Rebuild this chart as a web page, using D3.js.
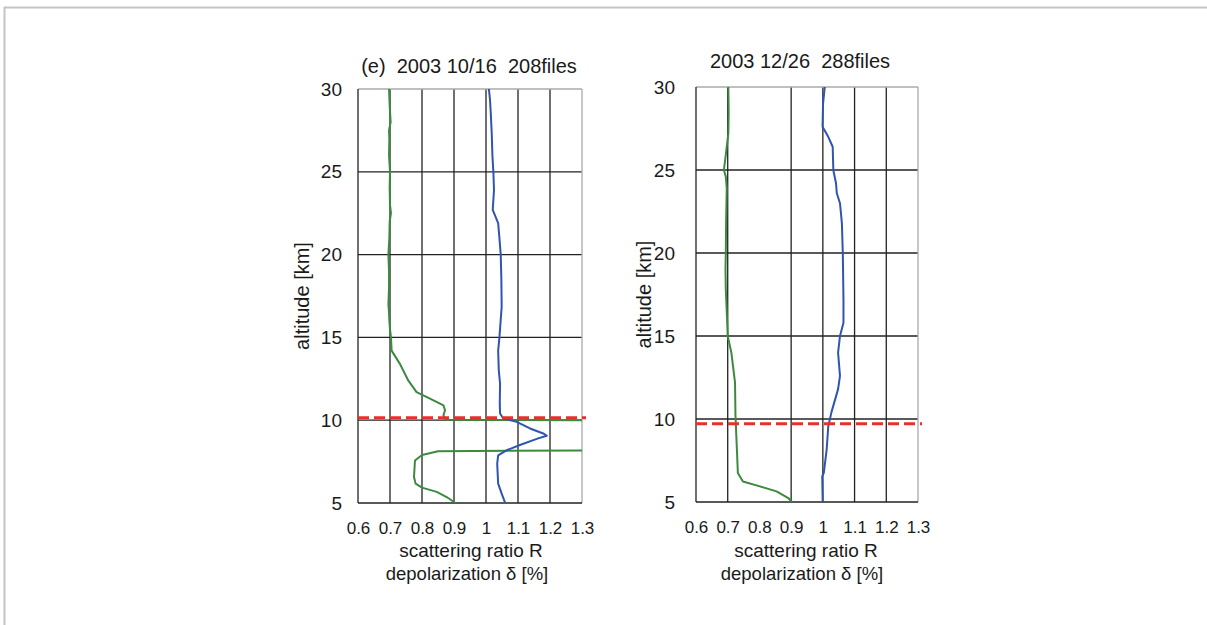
<!DOCTYPE html>
<html>
<head>
<meta charset="utf-8">
<script src="https://cdn.jsdelivr.net/npm/d3@7"></script>
<style>
  body { margin: 0; background: #fff; }
  svg { display: block; font-family: "Liberation Sans", Arial, sans-serif; }
  text { white-space: pre; fill: #1a1a1a; }
</style>
</head>
<body>
<div id="chart"></div>
<script>
// tick values
const xTicks = [0.6, 0.7, 0.8, 0.9, 1.0, 1.1, 1.2, 1.3];
const xTickLabels = ['0.6', '0.7', '0.8', '0.9', '1', '1.1', '1.2', '1.3'];
const yTicks = [5, 10, 15, 20, 25, 30];

// 2003 10/16 profiles: [altitude km, value]
const octGreen = [
  [30, 0.697], [29, 0.699], [28, 0.702], [27.5, 0.697], [27, 0.698], [26, 0.697], [25, 0.700],
  [24, 0.699], [23, 0.700], [22.5, 0.703], [22, 0.699], [21, 0.698], [20, 0.695], [19, 0.697],
  [18, 0.697], [17, 0.695], [16.5, 0.697], [16, 0.698], [15.5, 0.700], [15, 0.703], [14.2, 0.705],
  [13.4, 0.731], [12.4, 0.757], [11.7, 0.783], [11.3, 0.825], [10.9, 0.867], [10.6, 0.872],
  [10.3, 0.867], [10.02, 0.875], [9.97, 1.6], [8.2, 1.6], [8.13, 0.85], [7.9, 0.80], [7.57, 0.778],
  [6.57, 0.775], [6.17, 0.78], [5.93, 0.80], [5.67, 0.846], [5.36, 0.877], [5.06, 0.90], [5.0, 0.903]
];
const octBlue = [
  [30, 1.009], [29.35, 1.0125], [28.5, 1.015], [27.3, 1.018], [26, 1.02], [25, 1.023], [23.9, 1.025],
  [22.7, 1.021], [21.9, 1.038], [21, 1.042], [20, 1.046], [18.5, 1.048], [16.85, 1.049], [15.8, 1.045],
  [15, 1.042], [14.2, 1.038], [13, 1.04], [12.2, 1.044], [11, 1.043], [10.4, 1.044], [10.1, 1.054],
  [9.9, 1.096], [9.5, 1.1375], [9.2, 1.179], [9.06, 1.19], [8.9, 1.163], [8.5, 1.106], [8.19, 1.065],
  [7.88, 1.038], [7.38, 1.035], [6.17, 1.038], [5.57, 1.049], [5.0, 1.06]
];
const octTropopause = 10.15;

// 2003 12/26 profiles
const decGreen = [
  [30, 0.702], [28.5, 0.703], [27.2, 0.702], [26, 0.6945], [25, 0.688], [24.6, 0.694], [23.9, 0.697],
  [22, 0.695], [20, 0.694], [19, 0.693], [17.8, 0.694], [16.5, 0.697], [15, 0.70], [14, 0.7115],
  [12.2, 0.723], [10.2, 0.7245], [8.15, 0.729], [6.75, 0.732], [6.24, 0.748], [5.94, 0.8015],
  [5.64, 0.854], [5.24, 0.891], [5.0, 0.903]
];
const decBlue = [
  [30, 1.006], [29, 1.0006], [27.6, 0.999], [27, 1.017], [26.4, 1.031], [25, 1.033], [24.2, 1.0415],
  [23.6, 1.044], [23, 1.054], [21.8, 1.06], [19.9, 1.063], [17.2, 1.065], [15.8, 1.065], [15, 1.054],
  [14, 1.048], [12.6, 1.054], [11.8, 1.048], [10.4, 1.027], [9.55, 1.017], [8.15, 1.012],
  [6.75, 1.003], [6.54, 0.998], [5, 0.9995]
];
const decTropopause = 9.72;

const W = 1207, H = 625;
const FONT = '"Liberation Sans", Arial, sans-serif';
const svg = d3.select('#chart').append('svg')
  .attr('width', W).attr('height', H);

// page frame (top and left edge only)
svg.append('line').attr('x1', 4).attr('x2', W).attr('y1', 7.5).attr('y2', 7.5)
  .attr('stroke', '#c4c4c4').attr('stroke-width', 2);
svg.append('line').attr('x1', 4.5).attr('x2', 4.5).attr('y1', 7).attr('y2', H)
  .attr('stroke', '#c4c4c4').attr('stroke-width', 2);

const panels = [
  { id: 'oct', title: '(e)  2003 10/16  208files', titleX: 469, titleY: 73, left: 358, right: 582, top: 89, bottom: 503,
    green: octGreen, blue: octBlue, trop: octTropopause, tickPad: 16, yLabelX: 309, grid: [0.7, 0.8, 0.9, 1.0, 1.1, 1.2],
    xTitle: 'scattering ratio R', dTitle: 'depolarization δ [%]', titleCx: 471 },
  { id: 'dec', title: '2003 12/26  288files', titleX: 800, titleY: 68, left: 696, right: 918, top: 87, bottom: 502,
    green: decGreen, blue: decBlue, trop: decTropopause, tickPad: 21, yLabelX: 651, grid: [0.7, 0.9, 1.0, 1.1, 1.2],
    xTitle: 'scattering ratio R', dTitle: 'depolarization δ [%]', titleCx: 806 }
];

panels.forEach(p => {
  const x = d3.scaleLinear().domain([0.6, 1.3]).range([p.left, p.right]);
  const y = d3.scaleLinear().domain([5, 30]).range([p.bottom, p.top]);
  const g = svg.append('g').attr('class', 'panel-' + p.id);

  g.append('clipPath').attr('id', 'clip-' + p.id)
    .append('rect')
    .attr('x', p.left).attr('y', p.top)
    .attr('width', p.right - p.left).attr('height', p.bottom - p.top);

  // grid
  const grid = g.append('g').attr('stroke', '#222').attr('stroke-width', 1.3);
  grid.selectAll('.vg').data(p.grid).join('line')
    .attr('x1', d => x(d)).attr('x2', d => x(d))
    .attr('y1', p.top).attr('y2', p.bottom);
  grid.selectAll('.hg').data(yTicks.filter(t => t > 5 && t < 30)).join('line')
    .attr('x1', p.left).attr('x2', p.right)
    .attr('y1', d => y(d)).attr('y2', d => y(d));
  // frame: top and right lighter
  g.append('line').attr('x1', p.left).attr('x2', p.right).attr('y1', p.top).attr('y2', p.top)
    .attr('stroke', '#aaa').attr('stroke-width', 1.3);
  g.append('line').attr('x1', p.right).attr('x2', p.right).attr('y1', p.top).attr('y2', p.bottom)
    .attr('stroke', '#aaa').attr('stroke-width', 1.3);
  g.append('line').attr('x1', p.left).attr('x2', p.left).attr('y1', p.top).attr('y2', p.bottom)
    .attr('stroke', '#222').attr('stroke-width', 1.3);
  g.append('line').attr('x1', p.left).attr('x2', p.right).attr('y1', p.bottom).attr('y2', p.bottom)
    .attr('stroke', '#222').attr('stroke-width', 1.3);

  // profiles
  const line = d3.line().x(d => x(d[1])).y(d => y(d[0]));
  const lines = g.append('g').attr('clip-path', `url(#clip-${p.id})`)
    .attr('fill', 'none').attr('stroke-width', 2).attr('stroke-linejoin', 'round');
  lines.append('path').attr('d', line(p.green)).attr('stroke', '#3b8a3e');
  lines.append('path').attr('d', line(p.blue)).attr('stroke', '#2f55b0');

  // tropopause
  g.append('line')
    .attr('x1', p.left).attr('x2', p.right + 4)
    .attr('y1', y(p.trop)).attr('y2', y(p.trop))
    .attr('stroke', '#e8302a').attr('stroke-width', 3)
    .attr('stroke-dasharray', '11,5');

  // y axis ticks
  const yAxis = g.append('g')
    .attr('transform', `translate(${p.left - p.tickPad + 3},0)`)
    .call(d3.axisLeft(y).tickValues(yTicks).tickSize(0).tickPadding(3));
  yAxis.select('.domain').remove();
  yAxis.selectAll('text').attr('font-size', 19).attr('fill', '#1a1a1a').attr('font-family', FONT);

  // x axis ticks
  const xAxis = g.append('g')
    .attr('transform', `translate(0,${p.bottom + 19})`)
    .call(d3.axisBottom(x).tickValues(xTicks).tickFormat((d, i) => xTickLabels[i]).tickSize(0).tickPadding(0));
  xAxis.select('.domain').remove();
  xAxis.selectAll('text').attr('font-size', 17).attr('fill', '#1a1a1a').attr('font-family', FONT);

  // titles
  g.append('text').attr('x', p.titleX).attr('y', p.titleY)
    .attr('text-anchor', 'middle').attr('font-size', 20).text(p.title);
  g.append('text').attr('x', p.titleCx).attr('y', 557)
    .attr('text-anchor', 'middle').attr('font-size', 19).text(p.xTitle);
  g.append('text').attr('x', p.titleCx - 4).attr('y', 580)
    .attr('text-anchor', 'middle').attr('font-size', 18.5).text(p.dTitle);
  g.append('text')
    .attr('transform', `translate(${p.yLabelX},${(p.top + p.bottom) / 2}) rotate(-90)`)
    .attr('text-anchor', 'middle').attr('font-size', 20).text('altitude [km]');
});
</script>
</body>
</html>
